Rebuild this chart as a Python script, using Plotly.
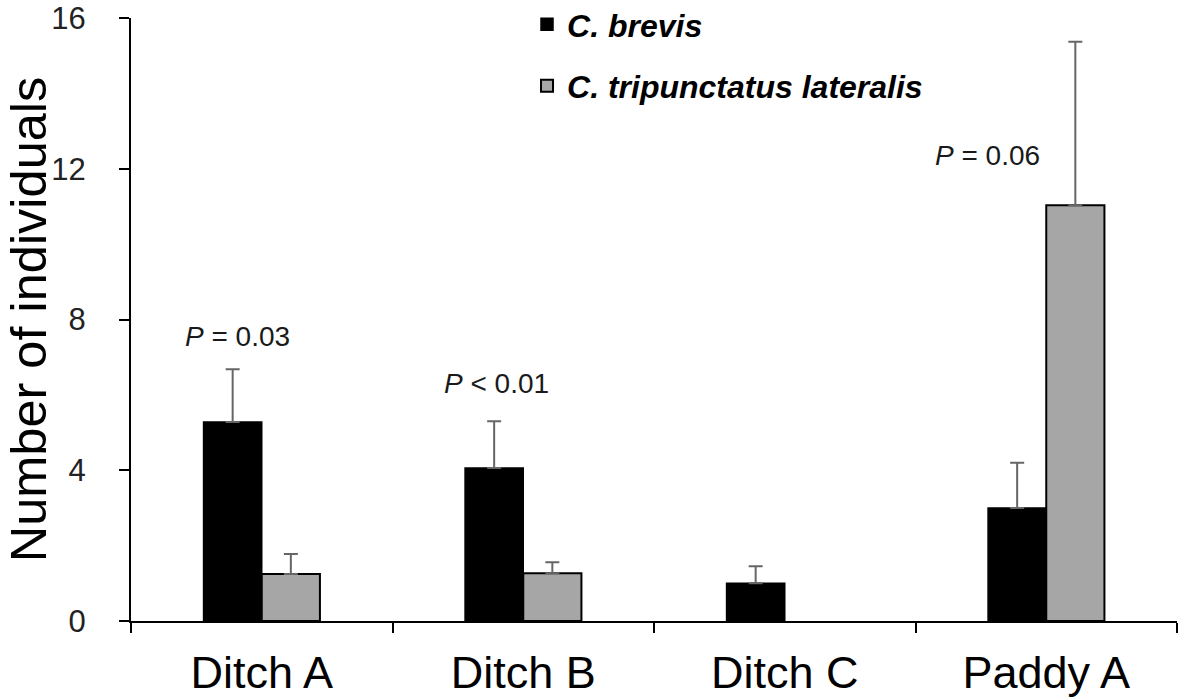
import plotly.graph_objects as go

sites = ["Ditch A", "Ditch B", "Ditch C", "Paddy A"]
brevis_mean = [5.28, 4.06, 1.0, 3.0]
brevis_se = [1.40, 1.24, 0.45, 1.20]
tripunct_mean = [1.25, 1.27, None, 11.03]
tripunct_se = [0.53, 0.29, None, 4.34]
p_labels = ["<i>P</i> = 0.03", "<i>P</i> < 0.01", "<i>P</i> = 0.06"]
p_sites = [0, 1, 3]
p_y = [7.54, 6.31, 12.34]
y_ticks = [0, 4, 8, 12, 16]

FONT = "Arial, Liberation Sans, sans-serif"

fig = go.Figure()
fig.add_trace(go.Bar(
    x=sites, y=brevis_mean, name="<b><i>C. brevis</i></b>",
    marker=dict(color="black", line=dict(color="black", width=1.5)),
    error_y=dict(type="data", array=brevis_se, arrayminus=[0]*4, symmetric=False,
                 color="#666666", thickness=2, width=7),
    legendgroup="a",
))
fig.add_trace(go.Bar(
    x=sites, y=tripunct_mean, name="<b><i>C. tripunctatus lateralis</i></b>",
    marker=dict(color="#a6a6a6", line=dict(color="black", width=2)),
    error_y=dict(type="data", array=tripunct_se, arrayminus=[0]*4, symmetric=False,
                 color="#666666", thickness=2, width=7),
    legendgroup="b",
))

for i, txt in enumerate(p_labels):
    offs = [-0.094, -0.103, -0.226][i]
    fig.add_annotation(x=p_sites[i] + offs, y=p_y[i], xref="x", yref="y",
                       text=txt, showarrow=False,
                       font=dict(family=FONT, size=28, color="#1a1a1a"))

fig.update_layout(
    width=1181, height=700,
    margin=dict(l=131, r=4, t=18, b=79, autoexpand=False),
    paper_bgcolor="white", plot_bgcolor="white",
    barmode="group", bargap=0.555, bargroupgap=0,
    font=dict(family=FONT, color="black"),
    legend=dict(x=0.3786, y=1.035, xanchor="left", yanchor="top",
                font=dict(family=FONT, size=32, color="black"),
                bgcolor="rgba(0,0,0,0)", traceorder="grouped", tracegroupgap=17),
    showlegend=True,
)
fig.update_xaxes(
    type="category", showline=True, linecolor="black", linewidth=2,
    ticks="outside", tickson="boundaries", ticklen=10, tickwidth=2, tickcolor="black",
    tickfont=dict(family=FONT, size=45, color="black"), ticklabelstandoff=11,
    automargin=False, showgrid=False, zeroline=False,
)
fig.update_yaxes(
    range=[0, 16], tickvals=y_ticks, showline=True, linecolor="black", linewidth=2,
    ticks="outside", ticklen=10, tickwidth=2, tickcolor="black",
    tickfont=dict(family=FONT, size=31, color="#222222"), ticklabelstandoff=27,
    showgrid=False, zeroline=False, automargin=False,
    title=dict(text="Number of individuals", font=dict(family=FONT, size=50.5, color="black"),
               standoff=0),
)

fig.write_html(
    "out.html",
    config={"displayModeBar": False},
    post_script="document.body.style.margin='0';document.body.style.overflow='hidden';",
)
